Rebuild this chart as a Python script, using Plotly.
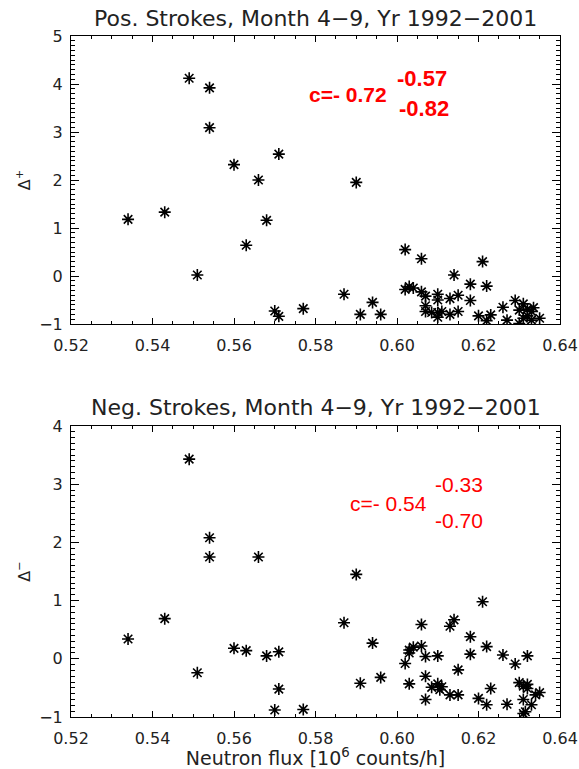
import plotly.graph_objects as go
from plotly.subplots import make_subplots

# ---- data ----
x_pos = [0.534, 0.543, 0.549, 0.551, 0.554, 0.554, 0.560, 0.563, 0.566, 0.568, 0.571, 0.570, 0.571, 0.577,
         0.587, 0.590, 0.591, 0.594, 0.596,
         0.602, 0.606, 0.614, 0.621, 0.603, 0.604, 0.602, 0.606, 0.607, 0.607, 0.607,
         0.610, 0.610, 0.610, 0.610, 0.6085, 0.611, 0.613, 0.613, 0.615, 0.615, 0.618, 0.618,
         0.622, 0.620, 0.622, 0.623, 0.626, 0.627, 0.629, 0.631, 0.630, 0.632, 0.631, 0.630,
         0.632, 0.635, 0.633, 0.633, 0.6335]
y_pos = [1.18, 1.33, 4.12, 0.02, 3.92, 3.09, 2.32, 0.64, 2.00, 1.16, 2.54, -0.73, -0.84, -0.68,
         -0.38, 1.95, -0.80, -0.55, -0.80,
         0.55, 0.36, 0.02, 0.30, -0.22, -0.25, -0.28, -0.33, -0.42, -0.62, -0.74,
         -0.38, -0.50, -0.76, -0.86, -0.76, -0.74, -0.47, -0.80, -0.74, -0.40, -0.17, -0.51,
         -0.21, -0.83, -0.93, -0.81, -0.65, -0.92, -0.51, -0.58, -0.71, -0.69, -0.88, -0.99,
         -0.83, -0.88, -0.74, -0.92, -0.66]

x_neg = [0.534, 0.543, 0.549, 0.551, 0.554, 0.554, 0.560, 0.563, 0.566, 0.568, 0.571, 0.570, 0.571, 0.577,
         0.587, 0.590, 0.591, 0.594, 0.596,
         0.621, 0.606, 0.614, 0.613, 0.618, 0.603, 0.604, 0.603, 0.606, 0.607, 0.610, 0.602,
         0.618, 0.622, 0.626, 0.629, 0.632, 0.615, 0.603, 0.607, 0.6085, 0.610, 0.611, 0.6105,
         0.607, 0.613, 0.615, 0.620, 0.622, 0.623, 0.627, 0.630, 0.631, 0.632, 0.632, 0.631,
         0.633, 0.634, 0.635, 0.631, 0.6315]
y_neg = [0.34, 0.69, 3.43, -0.24, 2.08, 1.75, 0.18, 0.14, 1.75, 0.05, 0.12, -0.88, -0.52, -0.87,
         0.62, 1.45, -0.42, 0.27, -0.32,
         0.98, 0.59, 0.67, 0.56, 0.38, 0.15, 0.20, 0.10, 0.22, 0.04, 0.05, -0.08,
         0.08, 0.21, 0.065, -0.09, 0.05, -0.19, -0.43, -0.30, -0.49, -0.43, -0.48, -0.53,
         -0.70, -0.62, -0.62, -0.68, -0.79, -0.51, -0.78, -0.41, -0.47, -0.44, -0.51, -0.70,
         -0.79, -0.62, -0.58, -0.94, -0.91]

titles = ["Pos. Strokes, Month 4\u22129, Yr 1992\u22122001",
          "Neg. Strokes, Month 4\u22129, Yr 1992\u22122001"]
x_ticks = [0.52, 0.54, 0.56, 0.58, 0.60, 0.62, 0.64]
corr_pos = ["c=- 0.72", "-0.57", "-0.82"]
corr_neg = ["c=- 0.54", "-0.33", "-0.70"]

FONT = "DejaVu Sans, Liberation Sans, Arial, sans-serif"
BOLD = "Liberation Sans, Arial, sans-serif"
RED = "#ff0000"
INK = "#222222"

W, H = 579, 769
L, R, T, B = 71, 19, 36, 52
ph = H - T - B


def py2paper(py):
    return (H - B - py) / ph


def px2paper(px):
    return (px - L) / (W - L - R)


fig = make_subplots(rows=2, cols=1, vertical_spacing=0.0)
fig.update_layout(
    yaxis=dict(domain=[py2paper(324), 1.0]),
    yaxis2=dict(domain=[0.0, py2paper(426)]),
)

marker = dict(symbol="asterisk-open", size=10, color="black",
              line=dict(color="black", width=1.6))
fig.add_trace(go.Scatter(x=x_pos, y=y_pos, mode="markers", marker=marker,
                         showlegend=False), row=1, col=1)
fig.add_trace(go.Scatter(x=x_neg, y=y_neg, mode="markers", marker=marker,
                         showlegend=False), row=2, col=1)

xcommon = dict(range=[0.52, 0.64], tickvals=x_ticks, tickformat=".2f", automargin=False,
               showgrid=False, zeroline=False, showline=True, linecolor="black",
               linewidth=1, mirror="allticks", ticks="inside", ticklen=6,
               tickcolor="black", tickfont=dict(family=FONT, size=16, color=INK),
               ticklabelstandoff=7,
               minor=dict(dtick=0.005, tick0=0.52, ticks="inside", ticklen=3,
                          tickcolor="black", showgrid=False))
ycommon = dict(showgrid=False, zeroline=False, showline=True, linecolor="black",
               linewidth=1, mirror="allticks", ticks="inside", ticklen=8, automargin=False,
               tickcolor="black", tickfont=dict(family=FONT, size=16, color=INK),
               dtick=1, tick0=0, ticklabelstandoff=4,
               minor=dict(dtick=0.1, tick0=0, ticks="inside", ticklen=4,
                          tickcolor="black", showgrid=False))

fig.update_xaxes(**xcommon)
fig.update_xaxes(title=dict(text="Neutron flux [10<sup>6</sup> counts/h]",
                            font=dict(family=FONT, size=19, color=INK), standoff=0),
                 row=2, col=1)
fig.update_yaxes(**ycommon)
fig.update_yaxes(range=[-1, 5], row=1, col=1,
                 title=dict(text="\u0394<sup>+</sup>", font=dict(family=FONT, size=16, color=INK),
                            standoff=4))
fig.update_yaxes(range=[-1, 4], row=2, col=1,
                 title=dict(text="\u0394<sup>\u2212</sup>", font=dict(family=FONT, size=16, color=INK),
                            standoff=4))

ann = []
ann.append(dict(text=titles[0], x=0.5, y=py2paper(18), xref="paper", yref="paper",
                showarrow=False, font=dict(family=FONT, size=22, color=INK),
                xanchor="center", yanchor="middle"))
ann.append(dict(text=titles[1], x=0.5, y=py2paper(407), xref="paper", yref="paper",
                showarrow=False, font=dict(family=FONT, size=22, color=INK),
                xanchor="center", yanchor="middle"))

ann.append(dict(text="<b>%s</b>" % corr_pos[0], x=px2paper(347.5), y=py2paper(94),
                xref="paper", yref="paper", showarrow=False, xanchor="center", yanchor="middle",
                font=dict(family=BOLD, size=21, color=RED)))
ann.append(dict(text="<b>%s</b>" % corr_pos[1], x=px2paper(395), y=py2paper(78),
                xref="paper", yref="paper", showarrow=False, xanchor="left", yanchor="middle",
                font=dict(family=BOLD, size=22, color=RED)))
ann.append(dict(text="<b>%s</b>" % corr_pos[2], x=px2paper(396.5), y=py2paper(109),
                xref="paper", yref="paper", showarrow=False, xanchor="left", yanchor="middle",
                font=dict(family=BOLD, size=22, color=RED)))
ann.append(dict(text=corr_neg[0], x=px2paper(388.5), y=py2paper(503),
                xref="paper", yref="paper", showarrow=False, xanchor="center", yanchor="middle",
                font=dict(family=BOLD, size=21, color=RED)))
ann.append(dict(text=corr_neg[1], x=px2paper(433), y=py2paper(484),
                xref="paper", yref="paper", showarrow=False, xanchor="left", yanchor="middle",
                font=dict(family=BOLD, size=21, color=RED)))
ann.append(dict(text=corr_neg[2], x=px2paper(433), y=py2paper(520),
                xref="paper", yref="paper", showarrow=False, xanchor="left", yanchor="middle",
                font=dict(family=BOLD, size=21, color=RED)))

fig.update_layout(
    width=W, height=H,
    margin=dict(l=L, r=R, t=T, b=B, pad=0, autoexpand=False),
    paper_bgcolor="white", plot_bgcolor="white",
    annotations=ann,
    showlegend=False,
)

fig.write_html("out.html", config=dict(displayModeBar=False),
               post_script="document.body.style.margin='0';"
                           "document.body.style.overflow='hidden';")
